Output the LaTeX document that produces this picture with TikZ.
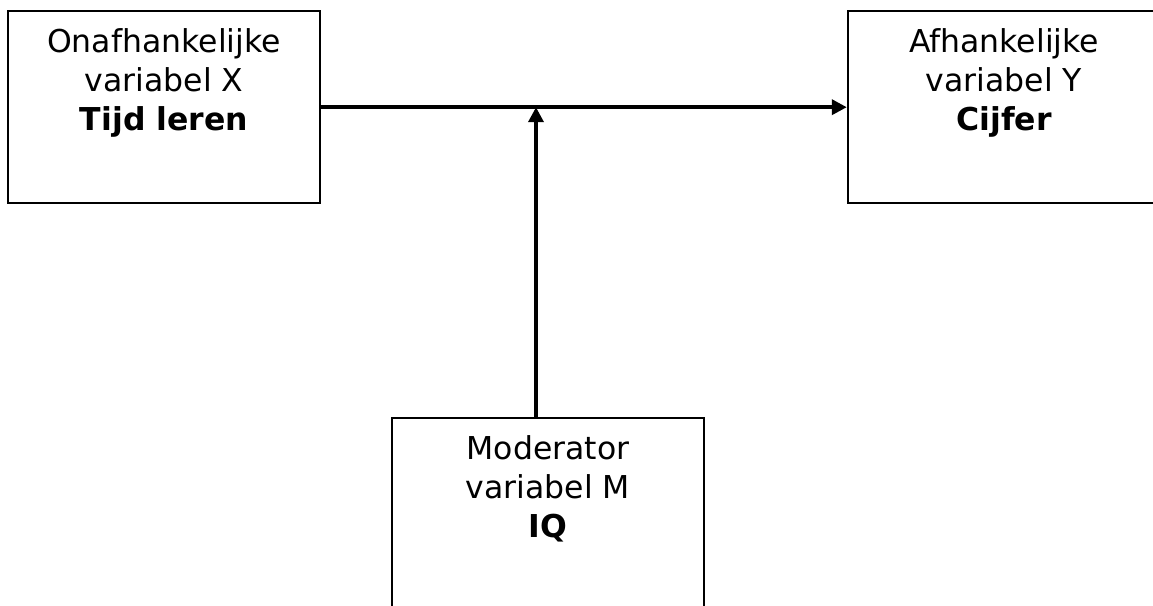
\documentclass[tikz,border=0pt]{standalone}
\usepackage{fontspec}
\setmainfont{DejaVu Sans}
\usetikzlibrary{arrows.meta}
\tikzset{
  box/.style={draw, line width=2.4pt, minimum width=312pt, minimum height=192pt, anchor=north, inner sep=0pt},
  lbl/.style={anchor=north, inner sep=0pt, align=center, yshift=-18pt,
    font=\fontsize{31.5pt}{39pt}\selectfont},
  arr/.style={line width=3.6pt, -{Triangle[length=15pt,width=15pt]}}
}
\begin{document}
\begin{tikzpicture}[x=1pt,y=-1pt]
\useasboundingbox (0,0) rectangle (1153,605);
\clip (0,0) rectangle (1153,605);
\node[box, label={[lbl]north:Onafhankelijke\\variabel X\\\textbf{Tijd leren}}] (x) at (164,10) {};
\node[box, label={[lbl]north:Afhankelijke\\variabel Y\\\textbf{Cijfer}}] (y) at (1004,10) {};
\node[box, label={[lbl]north:Moderator\\variabel M\\\textbf{IQ}}] (m) at (548,417) {};
\coordinate (mt) at ([xshift=-12pt]m.north);
\draw[arr] (x.east) -- (y.west);
\draw[arr] (mt) -- (mt |- x.east);
\end{tikzpicture}
\end{document}
